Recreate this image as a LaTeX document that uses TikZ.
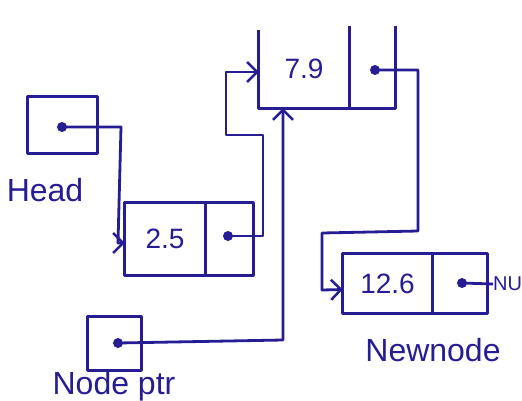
\documentclass[tikz,border=0pt]{standalone}
\usepackage{fontspec}
\setmainfont{Liberation Sans}
\usetikzlibrary{arrows.meta,calc}
\definecolor{ink}{RGB}{38,28,148}
\begin{document}
\begin{tikzpicture}[x=1pt,y=-1pt,color=ink,
  box/.style={rectangle,inner sep=0pt},
  cell/.style={rectangle,inner sep=0pt},
  dot/.style={circle,fill,inner sep=0pt,minimum size=10pt},
  link/.style={line width=2.8pt,line join=round},
  arr/.style={link,-{Straight Barb[length=10pt,width=20pt,line width=2.5pt]}},
  lbl/.style={inner sep=0pt,font=\fontsize{32}{34}\selectfont},
  val/.style={font=\fontsize{28}{30}\selectfont}]
\useasboundingbox (0,0) rectangle (522,400);
% Head pointer
\node[box,minimum width=69pt,minimum height=56pt] (head) at (62.5,125) {};
\draw[link] (head.north west) rectangle (head.south east);
\node[dot] (hdot) at (62,127) {};
\node[lbl] (headlbl) at (45,190) {Head};
% node 2.5
\node[box,val,minimum width=80pt,minimum height=72pt] (n25d) at (165,239) {2.5};
\node[box,minimum width=48pt,minimum height=72pt] (n25n) at (229,239) {};
\draw[link] (n25d.north west) rectangle (n25n.south east);
\draw[link] (n25d.north east) -- (n25d.south east);
\node[dot] (n25dot) at (228,236) {};
% node 7.9 (open top)
\node[cell,val,minimum width=90pt,minimum height=78pt] (n79d) at (304,69) {7.9};
\node[cell,minimum width=46pt,minimum height=78pt] (n79n) at (372,69) {};
\draw[link] (n79d.north west) -- (n79d.south west) -- (n79n.south east) -- ($(n79n.north east)+(0,-4)$);
\draw[link] ($(n79d.north east)+(0,-4)$) -- (n79d.south east);
\node[dot] (n79dot) at (375,70) {};
% node 12.6
\node[box,val,minimum width=89pt,minimum height=59pt] (n126d) at (387.5,283.5) {12.6};
\node[box,minimum width=55pt,minimum height=59pt] (n126n) at (459.5,283.5) {};
\draw[link] (n126d.north west) rectangle (n126n.south east);
\draw[link] (n126d.north east) -- (n126d.south east);
\node[dot] (n126dot) at (462,283) {};
\node[inner sep=0pt,anchor=west,font=\fontsize{20}{22}\selectfont] (null) at (493,284) {NU};
\node[lbl] (newlbl) at (433,350) {Newnode};
% Node ptr
\node[box,minimum width=53pt,minimum height=53pt] (ptr) at (114.5,343.5) {};
\draw[link] (ptr.north west) rectangle (ptr.south east);
\node[dot] (pdot) at (118,343) {};
\node[lbl] (ptrlbl) at (114,386) {Node ptr};
% connectors
\draw[arr] (hdot.center) -- (121,127) -- (118,243) -- ($(n25d.west)+(0,4)$);
\draw[arr] (n25dot.center) -- (263,236) -- (263,135) -- (226,135) -- (226,72) -- ($(n79d.west)+(0,3)$);
\draw[arr] (n79dot.center) -- (418,70) -- (418,231) -- (322,233) -- (322,290) -- ($(n126d.west)+(0,6)$);
\coordinate (pc) at (283,340);
\draw[arr] (pdot.center) -- (pc) -- (pc |- n79d.south);
\draw[link] (n126dot.center) -- (null.west);
\end{tikzpicture}
\end{document}
